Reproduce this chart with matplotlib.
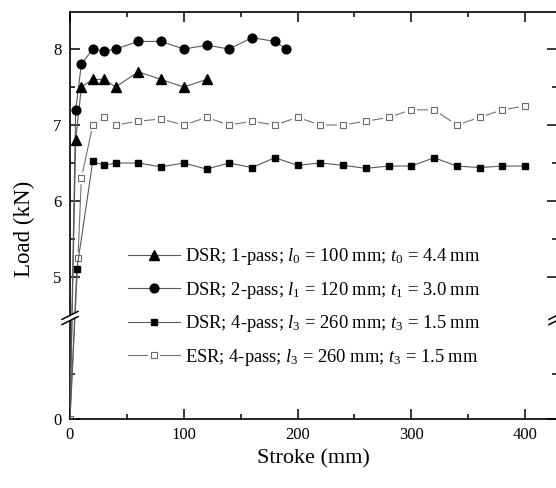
import numpy as np
import matplotlib
matplotlib.use("Agg")
import matplotlib.pyplot as plt
from matplotlib.ticker import FixedLocator
from matplotlib.patches import Polygon

plt.rcParams['font.family'] = ['Liberation Serif', 'DejaVu Serif']
plt.rcParams['mathtext.fontset'] = 'custom'
plt.rcParams['mathtext.rm'] = 'Liberation Serif'
plt.rcParams['mathtext.it'] = 'Liberation Serif:italic'

# data
x_dsr1 = [0, 5, 10, 20, 30, 40, 60, 80, 100, 120]
y_dsr1 = [0, 6.8, 7.5, 7.6, 7.6, 7.5, 7.7, 7.6, 7.5, 7.6]

x_dsr2 = [0, 5, 10, 20, 30, 40, 60, 80, 100, 120, 140, 160, 180, 190]
y_dsr2 = [0, 7.2, 7.8, 8.0, 7.97, 8.0, 8.1, 8.1, 8.0, 8.05, 8.0, 8.15, 8.1, 8.0]

x_dsr4 = [0, 6, 20, 30, 40, 60, 80, 100, 120, 140, 160, 180, 200, 220, 240,
          260, 280, 300, 320, 340, 360, 380, 400]
y_dsr4 = [0, 5.1, 6.52, 6.47, 6.5, 6.5, 6.45, 6.5, 6.42, 6.5, 6.44, 6.57, 6.47,
          6.5, 6.47, 6.43, 6.46, 6.46, 6.57, 6.46, 6.44, 6.46, 6.46]

x_esr = [0, 7, 10, 20, 30, 40, 60, 80, 100, 120, 140, 160, 180, 200, 220, 240,
         260, 280, 300, 320, 340, 360, 380, 400]
y_esr = [0, 5.25, 6.3, 7.0, 7.1, 7.0, 7.05, 7.08, 7.0, 7.1, 7.0, 7.05, 7.0, 7.1,
         7.0, 7.0, 7.05, 7.1, 7.2, 7.2, 7.0, 7.1, 7.2, 7.25]

labels = [r"DSR; 1-pass; $l_{\mathit{0}}$ = 100 mm; $t_{\mathit{0}}$ = 4.4 mm",
          r"DSR; 2-pass; $l_{\mathit{1}}$ = 120 mm; $t_{\mathit{1}}$ = 3.0 mm",
          r"DSR; 4-pass; $l_{\mathit{3}}$ = 260 mm; $t_{\mathit{3}}$ = 1.5 mm",
          r"ESR; 4-pass; $l_{\mathit{3}}$ = 260 mm; $t_{\mathit{3}}$ = 1.5 mm"]

# broken y axis: values below the break are squeezed
B = 4.46
F0 = 3.132

def fwd(y):
    y = np.asarray(y, dtype=float)
    return np.where(y >= B, y, F0 + y * (B - F0) / B)

def inv(t):
    t = np.asarray(t, dtype=float)
    return np.where(t >= B, t, (t - F0) * B / (B - F0))

fig = plt.figure(figsize=(5.56, 4.88), dpi=100)
ax = fig.add_axes([70 / 556, (488 - 419) / 488, 487 / 556, 407 / 488])
ax.set_yscale('function', functions=(fwd, inv))

lc = '0.35'
lw = 0.8

# ESR: line with gaps around open squares
l_e, = ax.plot(x_esr, y_esr, color='0.45', lw=lw, zorder=2)
w_e, = ax.plot(x_esr, y_esr, ls='none', marker='s', ms=8.5, mfc='white',
               mec='white', mew=0, zorder=2.1)
m_e, = ax.plot(x_esr, y_esr, ls='none', marker='s', ms=5, mfc='white',
               mec='0.42', mew=0.8, zorder=2.2)

handles = []
for xs, ys, mk, ms in [(x_dsr1, y_dsr1, '^', 7), (x_dsr2, y_dsr2, 'o', 6.3),
                       (x_dsr4, y_dsr4, 's', 5)]:
    ln, = ax.plot(xs, ys, color=lc, lw=lw, zorder=3)
    mm, = ax.plot(xs[1:], ys[1:], ls='none', marker=mk, ms=ms, mfc='black',
                  mec='black', zorder=3.1)
    handles.append((ln, mm))
handles.append((l_e, w_e, m_e))

ax.set_xlim(0, 428)
ax.set_ylim(0, 8.487)

ax.xaxis.set_major_locator(FixedLocator([0, 100, 200, 300, 400]))
ax.xaxis.set_minor_locator(FixedLocator([50, 150, 250, 350]))
ax.yaxis.set_major_locator(FixedLocator([0, 5, 6, 7, 8]))
ax.yaxis.set_minor_locator(FixedLocator([2, 5.5, 6.5, 7.5]))
ax.set_yticklabels(['0', '5', '6', '7', '8'])
ax.set_xticklabels(['0', '100', '200', '300', '400'])

ax.tick_params(which='both', direction='in', top=True, right=True,
               labelsize=12, width=1.1, pad=6)
ax.tick_params(which='major', length=7)
ax.tick_params(which='minor', length=3.5)
for s in ax.spines.values():
    s.set_linewidth(1.2)

ax.set_xlabel('Stroke (mm)', fontsize=16)
ax.set_ylabel('Load (kN)', fontsize=16.5)
ax.yaxis.set_label_coords(-0.072, 0.466)

# break marks on both sides
yb = (419 - 318) / 407
dx, dy, off = 8 / 487, 4 / 407, 2.6 / 407
for xc in [0, 1]:
    poly = Polygon([(xc - dx, yb - dy - off), (xc + dx, yb + dy - off),
                    (xc + dx, yb + dy + off), (xc - dx, yb - dy + off)],
                   closed=True, transform=ax.transAxes, facecolor='white',
                   edgecolor='none', clip_on=False, zorder=5)
    ax.add_patch(poly)
    for o in [-off, off]:
        ax.plot([xc - dx, xc + dx], [yb - dy + o, yb + dy + o], color='black',
                lw=1.1, transform=ax.transAxes, clip_on=False, zorder=6)

leg = ax.legend(handles, labels, loc='upper left',
                bbox_to_anchor=(128 / 556, 1 - 246 / 488),
                bbox_transform=fig.transFigure, frameon=False, fontsize=13.3,
                borderpad=0, borderaxespad=0, handlelength=2.8,
                handletextpad=0.3, labelspacing=0.68)

fig.savefig('out.png', dpi=100)
